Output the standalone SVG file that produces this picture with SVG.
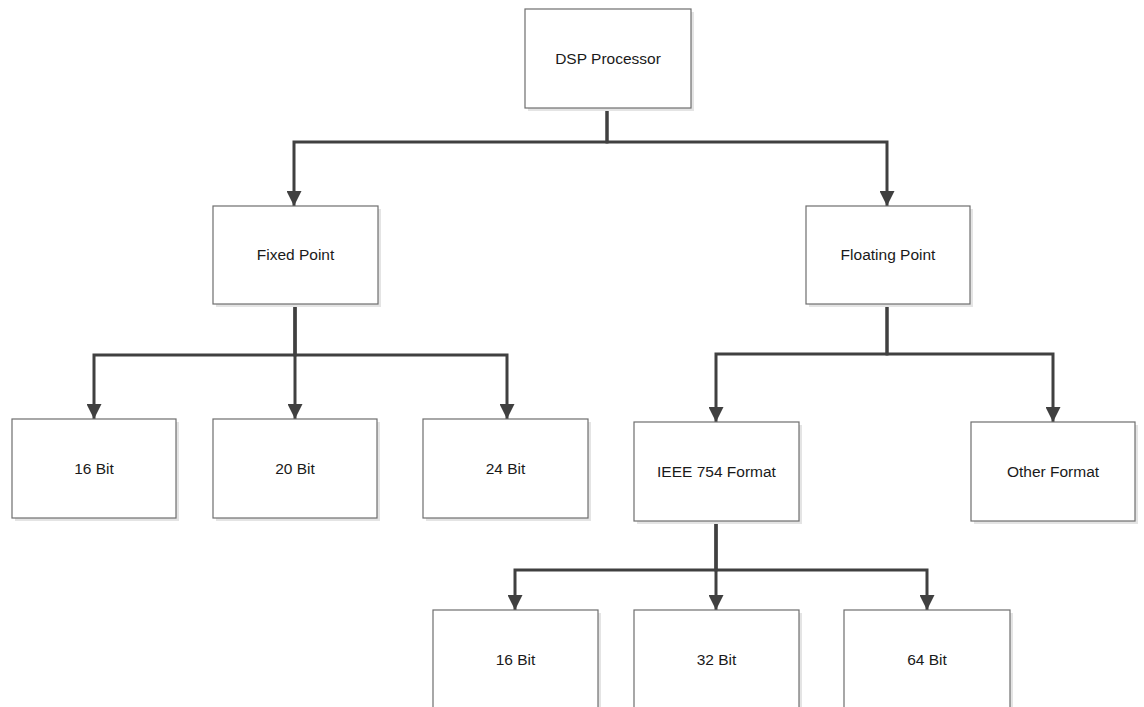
<svg xmlns="http://www.w3.org/2000/svg" width="1144" height="707" viewBox="0 0 1144 707">
<style>
.box{fill:#ffffff;stroke:#6e6e6e;stroke-width:1.2}
.sh{fill:#e4e4e4}
.lbl{font-family:"Liberation Sans",Arial,sans-serif;font-size:15.5px;fill:#1a1a1a;text-anchor:middle}
.con{fill:none;stroke:#404040;stroke-width:3;marker-end:url(#ah)}
</style>
<defs>
<marker id="ah" markerUnits="userSpaceOnUse" markerWidth="15" markerHeight="15" refX="15" refY="7.5" orient="auto" viewBox="0 0 15 15">
<path d="M0,0 L15,7.5 L0,15 z" fill="#404040"/>
</marker>
</defs>
<rect width="1144" height="707" fill="#ffffff"/>
<g id="connectors">
<path class="con" d="M607,108 V142 H294 V206"/>
<path class="con" d="M607,108 V142 H887 V206"/>
<path class="con" d="M295,304 V355 H94 V419"/>
<path class="con" d="M295,304 V419"/>
<path class="con" d="M295,304 V355 H507 V419"/>
<path class="con" d="M887,304 V354 H716 V422"/>
<path class="con" d="M887,304 V354 H1053 V422"/>
<path class="con" d="M716,521 V570 H515 V610"/>
<path class="con" d="M716,521 V610"/>
<path class="con" d="M716,521 V570 H927 V610"/>
</g>
<g id="dsp"><rect class="sh" x="528" y="12" width="166" height="99"/><rect class="box" x="525" y="9" width="166" height="99"/><text class="lbl" x="608" y="64">DSP Processor</text></g>
<g id="fixed"><rect class="sh" x="216" y="209" width="165" height="98"/><rect class="box" x="213" y="206" width="165" height="98"/><text class="lbl" x="295.5" y="260">Fixed Point</text></g>
<g id="floating"><rect class="sh" x="809" y="209" width="164" height="98"/><rect class="box" x="806" y="206" width="164" height="98"/><text class="lbl" x="888" y="260">Floating Point</text></g>
<g id="fx16"><rect class="sh" x="15" y="422" width="164" height="99"/><rect class="box" x="12" y="419" width="164" height="99"/><text class="lbl" x="94" y="474">16 Bit</text></g>
<g id="fx20"><rect class="sh" x="216" y="422" width="164" height="99"/><rect class="box" x="213" y="419" width="164" height="99"/><text class="lbl" x="295" y="474">20 Bit</text></g>
<g id="fx24"><rect class="sh" x="426" y="422" width="165" height="99"/><rect class="box" x="423" y="419" width="165" height="99"/><text class="lbl" x="505.5" y="474">24 Bit</text></g>
<g id="ieee"><rect class="sh" x="637" y="425" width="165" height="99"/><rect class="box" x="634" y="422" width="165" height="99"/><text class="lbl" x="716.5" y="477">IEEE 754 Format</text></g>
<g id="other"><rect class="sh" x="974" y="425" width="164" height="99"/><rect class="box" x="971" y="422" width="164" height="99"/><text class="lbl" x="1053" y="477">Other Format</text></g>
<g id="fl16"><rect class="sh" x="436" y="613" width="165" height="120"/><rect class="box" x="433" y="610" width="165" height="120"/><text class="lbl" x="515.5" y="665">16 Bit</text></g>
<g id="fl32"><rect class="sh" x="637" y="613" width="165" height="120"/><rect class="box" x="634" y="610" width="165" height="120"/><text class="lbl" x="716.5" y="665">32 Bit</text></g>
<g id="fl64"><rect class="sh" x="847" y="613" width="166" height="120"/><rect class="box" x="844" y="610" width="166" height="120"/><text class="lbl" x="927" y="665">64 Bit</text></g>
</svg>
